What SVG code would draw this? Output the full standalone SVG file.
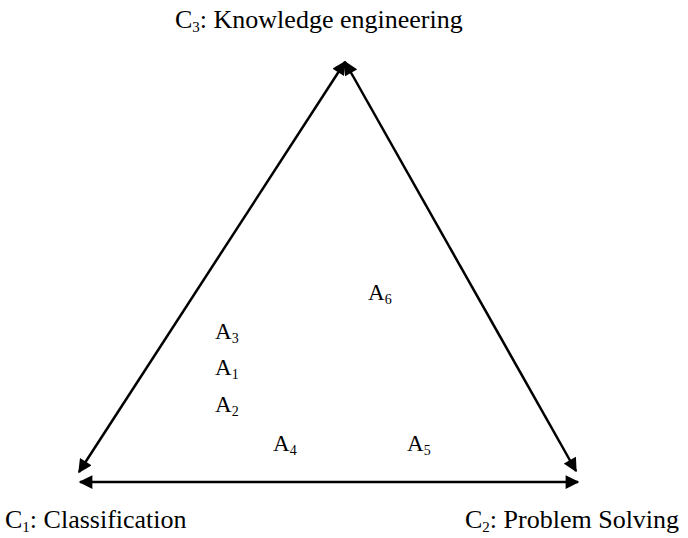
<svg xmlns="http://www.w3.org/2000/svg" width="688" height="538" viewBox="0 0 688 538">
<style>
text{font-family:"Liberation Serif","Times New Roman",serif;fill:#000}
.lbl{font-size:26px}
.lbl .sub{font-size:15px}
.pt{font-size:23px}
.pt .sub{font-size:14px}
.ln{stroke:#000;stroke-width:2.5;fill:none}
</style>
<defs>
<marker id="ah" viewBox="0 0 10 10" refX="9" refY="5" markerWidth="6" markerHeight="5.5" orient="auto-start-reverse" markerUnits="strokeWidth">
<path d="M0,0 L10,5 L0,10 z" fill="#000"/>
</marker>
</defs>
<rect width="688" height="538" fill="#fff"/>
<g id="connectors">
<line class="ln" x1="345" y1="62" x2="79" y2="472" marker-start="url(#ah)" marker-end="url(#ah)"/>
<line class="ln" x1="345" y1="62" x2="576" y2="471" marker-start="url(#ah)" marker-end="url(#ah)"/>
<line class="ln" x1="80" y1="482" x2="578" y2="482" marker-start="url(#ah)" marker-end="url(#ah)"/>
</g>
<g id="C3"><text class="lbl" x="175" y="28">C<tspan class="sub" dy="4">3</tspan><tspan dy="-4">: Knowledge engineering</tspan></text></g>
<g id="C1"><text class="lbl" x="5" y="528">C<tspan class="sub" dy="4">1</tspan><tspan dy="-4">: Classification</tspan></text></g>
<g id="C2"><text class="lbl" x="465" y="528">C<tspan class="sub" dy="4">2</tspan><tspan dy="-4">: Problem Solving</tspan></text></g>
<g id="A6"><text class="pt" x="368" y="300">A<tspan class="sub" dy="4">6</tspan></text></g>
<g id="A3"><text class="pt" x="215" y="339">A<tspan class="sub" dy="4">3</tspan></text></g>
<g id="A1"><text class="pt" x="215" y="375">A<tspan class="sub" dy="4">1</tspan></text></g>
<g id="A2"><text class="pt" x="215" y="412">A<tspan class="sub" dy="4">2</tspan></text></g>
<g id="A4"><text class="pt" x="273" y="451">A<tspan class="sub" dy="4">4</tspan></text></g>
<g id="A5"><text class="pt" x="407" y="451">A<tspan class="sub" dy="4">5</tspan></text></g>
</svg>
